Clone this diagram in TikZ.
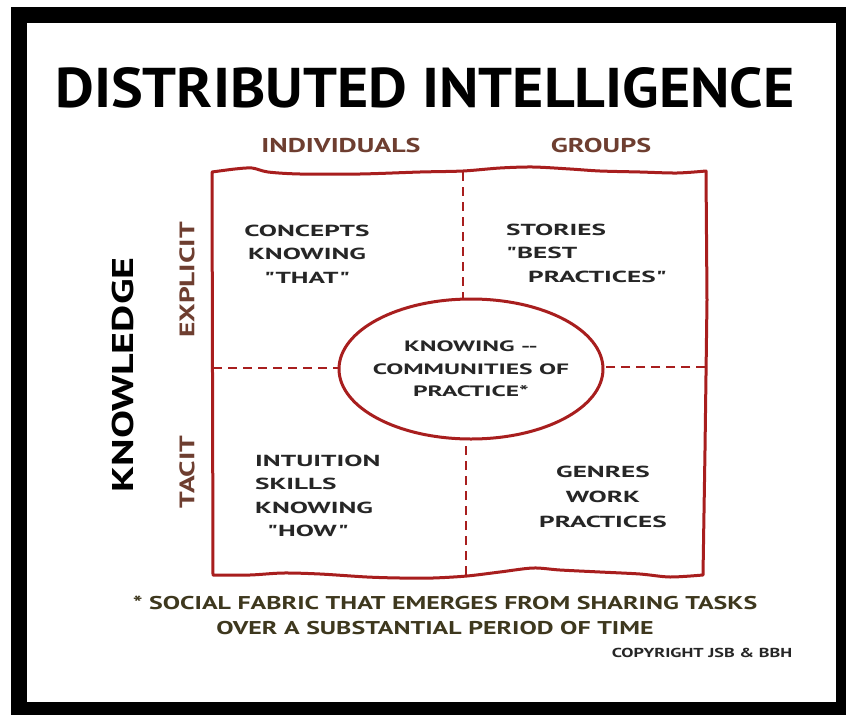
\documentclass[tikz,border=0pt]{standalone}
\usepackage{fontspec}
\setmainfont{PT Sans}
\newfontfamily\handfont[FakeStretch=1.4]{PT Sans}
\newfontfamily\widefont[FakeStretch=1.7]{PT Sans}
\newfontfamily\tallfont[FakeStretch=1.07]{PT Sans}
\usetikzlibrary{shapes.geometric}

\definecolor{inkred}{RGB}{168,30,30}
\definecolor{inkbrown}{RGB}{110,62,48}
\definecolor{inkgray}{RGB}{38,38,38}
\definecolor{inkolive}{RGB}{62,56,30}

\tikzset{
  frameline/.style={draw=inkred, line width=3pt, line join=round, line cap=round},
  divider/.style={draw=inkred, line width=2.4pt, dash pattern=on 9pt off 6pt},
  headlabel/.style={inner sep=0pt, text=inkbrown, font=\handfont\bfseries\fontsize{20}{20}\selectfont},
  sidelabel/.style={inner sep=0pt, rotate=90, text=inkbrown, font=\handfont\bfseries\fontsize{21}{21}\selectfont},
  celltext/.style={inner sep=0pt, text=inkgray, font=\widefont\bfseries\fontsize{16}{23.5}\selectfont},
  notetext/.style={inner sep=0pt, text=inkolive, font=\handfont\bfseries\fontsize{18.5}{18.5}\selectfont},
}

\begin{document}
\begin{tikzpicture}[x=1pt, y=-1pt]
  \useasboundingbox (0,0) rectangle (846,715);
  % black mount around the sheet
  \fill[white] (0,0) rectangle (846,715);
  \fill[black] (11,7) rectangle (846,715);
  \fill[white] (27,23) rectangle (836,702);

  \node[font=\tallfont\bfseries\fontsize{56}{56}\selectfont, inner sep=0pt] (title) at (425,88) {DISTRIBUTED INTELLIGENCE};

  \node[headlabel] (indiv) at (341,145) {INDIVIDUALS};
  \node[headlabel] (groups) at (601,145) {GROUPS};

  \node[sidelabel, text=black, font=\handfont\bfseries\fontsize{30}{30}\selectfont] (know) at (123,375) {KNOWLEDGE};
  \node[sidelabel] (explicit) at (187,280) {EXPLICIT};
  \node[sidelabel] (tacit) at (187,472) {TACIT};

  % hand drawn outer square
  \draw[frameline] plot[smooth, tension=0.5] coordinates {(212,172) (235,169) (252,168) (268,172) (300,174) (360,174) (420,172) (463,171) (500,168) (533,167) (570,169) (600,171) (640,172) (677,173) (706,171)}
    -- (707,300) -- (705,450) -- (703,575)
    plot[smooth, tension=0.5] coordinates {(703,575) (670,577) (640,574) (600,572) (560,570) (533,568) (500,572) (467,576) (433,578) (400,578) (367,577) (320,574) (283,573) (250,575) (213,575)}
    -- (212,172);

  \coordinate (top) at (463,172);
  \coordinate (bottom) at (466,575);
  \coordinate (left) at (213,368);
  \coordinate (right) at (705,367);

  \node[ellipse, draw=inkred, line width=3pt, minimum width=264pt, minimum height=140pt,
        inner xsep=-30pt, inner ysep=-4pt, align=center, text=inkgray,
        font=\widefont\bfseries\fontsize{15}{22.5}\selectfont] (cop) at (471,369)
    {KNOWING --\\COMMUNITIES OF\\PRACTICE*};

  \draw[divider] (top) -- (cop.north -| top);
  \draw[divider] (bottom) -- (cop.south -| bottom);
  \draw[divider] (left) -- (cop.west |- left);
  \draw[divider] (right) -- (cop.east |- right);

  \node[celltext, align=center] (concepts) at (307,254) {CONCEPTS\\KNOWING\\"THAT"};
  \node[celltext, align=left, anchor=west] (stories) at (506,253) {STORIES\\"BEST\\\hspace*{22pt}PRACTICES"};
  \node[celltext, align=left, anchor=west] (intuition) at (255,496) {INTUITION\\SKILLS\\KNOWING\\\hspace*{12pt}"HOW"};
  \node[celltext, align=center, font=\widefont\bfseries\fontsize{16}{25}\selectfont] (genres) at (603,497) {GENRES\\WORK\\PRACTICES};

  \node[notetext] (note1) at (445,603) {* SOCIAL FABRIC THAT EMERGES FROM SHARING TASKS};
  \node[notetext] (note2) at (435,628) {OVER A SUBSTANTIAL PERIOD OF TIME};
  \node[notetext, text=inkgray, font=\handfont\bfseries\fontsize{13}{13}\selectfont] (copy) at (702,653) {COPYRIGHT JSB \& BBH};
\end{tikzpicture}
\end{document}
